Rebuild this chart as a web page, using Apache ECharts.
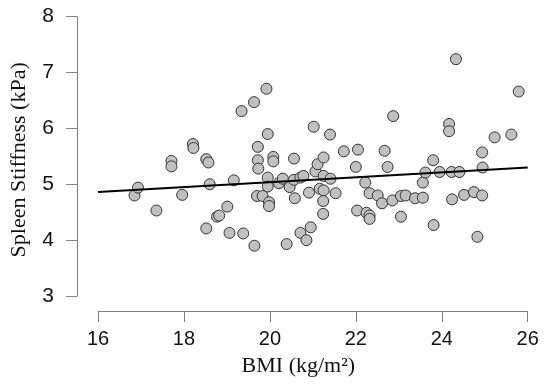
<!DOCTYPE html>
<html><head><meta charset="utf-8">
<script src="https://cdn.jsdelivr.net/npm/echarts@6/dist/echarts.min.js"></script>
<style>html,body{margin:0;padding:0;background:#fff}#c{width:550px;height:390px}</style>
</head><body><div id="c"></div>
<script>
const bmi = [16.85,16.93,17.36,17.71,17.71,17.96,18.21,18.22,18.52,18.57,
18.60,18.52,18.77,18.82,19.01,19.06,19.16,19.34,19.38,19.63,
19.64,19.72,19.72,19.73,19.70,19.83,19.92,19.95,19.95,19.95,
19.98,19.98,20.08,20.08,20.21,20.30,20.39,20.46,20.56,20.56,
20.58,20.71,20.71,20.78,20.85,20.91,20.95,21.02,21.06,21.11,
21.16,21.25,21.25,21.25,21.24,21.24,21.40,21.41,21.53,21.72,
22.00,22.05,22.03,22.22,22.25,22.32,22.32,22.32,22.51,22.61,
22.67,22.74,22.85,22.87,23.05,23.05,23.16,23.38,23.56,23.56,
23.62,23.80,23.81,23.95,24.17,24.17,24.23,24.24,24.33,24.41,
24.52,24.75,24.83,24.94,24.95,24.94,25.23,25.62,25.79];
const stiffness = [4.80,4.94,4.53,5.42,5.32,4.81,5.72,5.65,5.45,5.39,
5.00,4.21,4.42,4.44,4.60,4.13,5.07,6.31,4.12,6.47,
3.90,5.67,5.43,5.28,4.79,4.79,6.71,5.90,5.12,4.96,
4.68,4.61,5.49,5.41,5.02,5.10,3.93,4.95,5.46,5.08,
4.75,5.12,4.13,5.15,4.00,4.85,4.23,6.03,5.23,5.36,
4.92,4.89,5.48,5.15,4.70,4.47,5.89,5.10,4.84,5.59,
5.31,5.62,4.53,5.03,4.49,4.84,4.44,4.38,4.80,4.66,
5.60,5.31,4.71,6.22,4.79,4.42,4.80,4.75,4.76,5.03,
5.21,5.43,4.27,5.22,6.08,5.95,5.22,4.73,7.24,5.22,
4.81,4.86,4.06,5.57,5.30,4.80,5.84,5.89,6.66];
const fitBmi = [16, 26];
const fitStiffness = [4.86, 5.30];
const xTitle = 'BMI (kg/m\u00B2)';
const yTitle = 'Spleen Stiffness (kPa)';

const points = bmi.map((b, i) => [b, stiffness[i]]);
const fitLine = fitBmi.map((b, i) => [b, fitStiffness[i]]);

const axisColor = '#808080';
const chart = echarts.init(document.getElementById('c'), null, {renderer: 'canvas'});
chart.setOption({
  animation: false,
  backgroundColor: '#ffffff',
  grid: {left: 97.7, right: 22.3, top: 16.7, bottom: 94},
  xAxis: {
    type: 'value', min: 16, max: 26, interval: 2, offset: 15,
    axisLine: {show: true, lineStyle: {color: axisColor, width: 1}},
    axisTick: {show: true, length: 11, lineStyle: {color: axisColor}},
    axisLabel: {margin: 18, fontSize: 20, color: '#111', fontFamily: 'Liberation Sans'},
    splitLine: {show: false},
    name: xTitle, nameLocation: 'middle', nameGap: 44,
    nameTextStyle: {fontSize: 22, color: '#111', fontFamily: 'Liberation Serif', padding: [0, 29, 0, 0]}
  },
  yAxis: {
    type: 'value', min: 3, max: 8, interval: 1, offset: 21,
    axisLine: {show: true, lineStyle: {color: axisColor, width: 1}},
    axisTick: {show: true, length: 11, lineStyle: {color: axisColor}},
    axisLabel: {margin: 23, fontSize: 21, color: '#111', fontFamily: 'Liberation Sans'},
    splitLine: {show: false},
    name: yTitle, nameLocation: 'middle', nameGap: 47, nameRotate: 90,
    nameTextStyle: {fontSize: 22, color: '#111', fontFamily: 'Liberation Serif', padding: [0, 7, 0, 0]}
  },
  series: [
    {
      type: 'scatter', data: points, symbol: 'circle', symbolSize: 11, z: 2,
      itemStyle: {color: '#c0c0c0', borderColor: '#333', borderWidth: 1, opacity: 1}
    },
    {
      type: 'line', data: fitLine, symbol: 'none', z: 3,
      lineStyle: {color: '#000', width: 2}
    }
  ]
});
</script></body></html>
